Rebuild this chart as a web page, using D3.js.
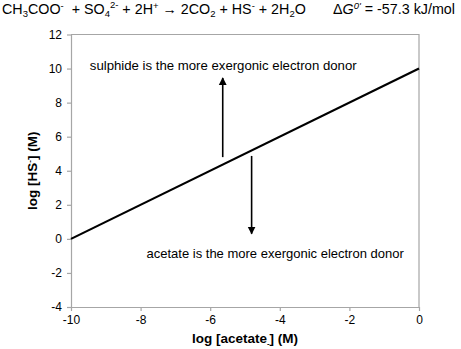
<!DOCTYPE html>
<meta charset="utf-8">
<script src="https://d3js.org/d3.v7.min.js"></script>
<style>
  body { margin: 0; background: #fff; }
  svg { font-family: 'Liberation Sans', Arial, sans-serif; }
</style>
<body>
<div id="chart"></div>
<script>

// data
var xTicks = [-10, -8, -6, -4, -2, 0];
var yTicks = [-4, -2, 0, 2, 4, 6, 8, 10, 12];
var lineX = [-10, 0];
var lineY = [0, 10];
// arrows: [x, yStart, yEnd]
var arrowUp = [-5.64, 4.8, 9.45];
var arrowDown = [-4.81, 4.87, 0.3];
var labelUp = "sulphide is the more exergonic electron donor";
var labelDown = "acetate is the more exergonic electron donor";

var W = 461, H = 349;
var margin = {top: 34.5, right: 42, bottom: 42, left: 71};
var width = 419 - margin.left,
    height = 307 - margin.top;

var svg = d3.select("#chart").append("svg")
    .attr("width", W).attr("height", H);

var defs = svg.append("defs");
defs.append("marker")
    .attr("id", "head")
    .attr("viewBox", "0 0 10 10")
    .attr("refX", 9).attr("refY", 5)
    .attr("markerWidth", 5).attr("markerHeight", 6)
    .attr("markerUnits", "strokeWidth")
    .attr("orient", "auto")
  .append("path")
    .attr("d", "M0,0 L10,5 L0,10 Z")
    .attr("fill", "#000");

// title equation
var title = svg.append("text")
    .attr("x", 2).attr("y", 14)
    .style("font-size", "14.3px")
    .style("white-space", "pre")
    .attr("fill", "#000");
title.append("tspan").text("CH");
title.append("tspan").text("3").attr("dy", 3).style("font-size", "9.5px");
title.append("tspan").text("COO").attr("dy", -3);
title.append("tspan").text("-").attr("dy", -5).style("font-size", "9.5px");
title.append("tspan").text("  + SO").attr("dy", 5);
title.append("tspan").text("4").attr("dy", 3).style("font-size", "9.5px");
title.append("tspan").text("2-").attr("dy", -9).style("font-size", "9.5px");
title.append("tspan").text(" + 2H").attr("dy", 6);
title.append("tspan").text("+").attr("dy", -5).style("font-size", "9.5px");
title.append("tspan").text(" \u2192 2CO").attr("dy", 5);
title.append("tspan").text("2").attr("dy", 3).style("font-size", "9.5px");
title.append("tspan").text(" + HS").attr("dy", -3);
title.append("tspan").text("-").attr("dy", -5).style("font-size", "9.5px");
title.append("tspan").text(" + 2H").attr("dy", 5);
title.append("tspan").text("2").attr("dy", 3).style("font-size", "9.5px");
title.append("tspan").text("O").attr("dy", -3);

var dg = svg.append("text")
    .attr("x", 333).attr("y", 14)
    .style("font-size", "14.3px");
dg.append("tspan").text("\u0394");
dg.append("tspan").text("G").style("font-style", "italic");
dg.append("tspan").text("0'").style("font-style", "italic").style("font-size", "9.5px").attr("dy", -5);
dg.append("tspan").text(" = -57.3 kJ/mol").attr("dy", 5);

var g = svg.append("g")
    .attr("transform", "translate(" + margin.left + "," + margin.top + ")");

var x = d3.scaleLinear().domain([-10, 0]).range([0, width]);
var y = d3.scaleLinear().domain([-4, 12]).range([height, 0]);

// frame top/right
g.append("path")
    .attr("d", "M0,0 H" + width + " V" + height)
    .attr("fill", "none").attr("stroke", "#a6a6a6").attr("stroke-width", 1.2);

var fmt = function(d) { return String(d); };
var xAxis = g.append("g")
    .attr("transform", "translate(0," + height + ")")
    .call(d3.axisBottom(x).tickValues(xTicks).tickFormat(fmt).tickSize(4).tickSizeOuter(0).tickPadding(4));
var yAxis = g.append("g")
    .call(d3.axisLeft(y).tickValues(yTicks).tickFormat(fmt).tickSize(4).tickSizeOuter(0).tickPadding(5));

[xAxis, yAxis].forEach(function(a) {
  a.selectAll("path,line").attr("stroke", "#a6a6a6").attr("stroke-width", 1.2);
  a.selectAll("text").style("font-size", "12px").attr("fill", "#000");
});

// main line
var pts = lineX.map(function(v, i) { return [v, lineY[i]]; });
g.append("path")
    .datum(pts)
    .attr("d", d3.line().x(function(d) { return x(d[0]); }).y(function(d) { return y(d[1]); }))
    .attr("stroke", "#000").attr("stroke-width", 2.2).attr("fill", "none");

// arrows
[arrowUp, arrowDown].forEach(function(a) {
  g.append("line")
      .attr("x1", x(a[0])).attr("x2", x(a[0]))
      .attr("y1", y(a[1])).attr("y2", y(a[2]))
      .attr("stroke", "#000").attr("stroke-width", 1.6)
      .attr("marker-end", "url(#head)");
});

// annotations
g.append("text")
    .attr("x", x(-9.46)).attr("y", y(9.9))
    .style("font-size", "13.2px")
    .text(labelUp);
g.append("text")
    .attr("x", x(-7.83)).attr("y", y(-1.1))
    .style("font-size", "13px")
    .text(labelDown);

// axis titles
var xl = g.append("text")
    .attr("x", width / 2).attr("y", height + 36)
    .attr("text-anchor", "middle")
    .style("font-size", "13.5px").style("font-weight", "bold");
xl.append("tspan").text("log [acetate");
xl.append("tspan").text("-").style("font-size", "8px").attr("dy", 3);
xl.append("tspan").text("] (M)").attr("dy", -3);

var yl = g.append("text")
    .attr("transform", "translate(-34," + (height / 2) + ") rotate(-90)")
    .attr("text-anchor", "middle")
    .style("font-size", "13.5px").style("font-weight", "bold");
yl.append("tspan").text("log [HS");
yl.append("tspan").text("-").style("font-size", "8px").attr("dy", -5);
yl.append("tspan").text("] (M)").attr("dy", 5);

</script>
</body>
